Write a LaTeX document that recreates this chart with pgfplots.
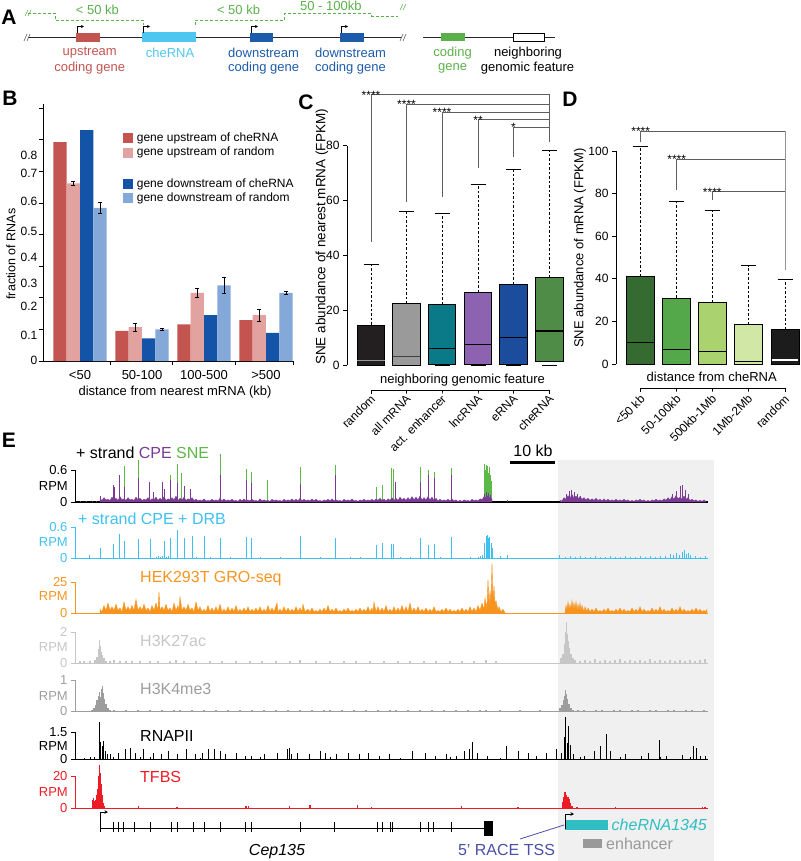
\documentclass[border=0pt]{standalone}
\usepackage{pgfplots}
\pgfplotsset{compat=1.18}
\usetikzlibrary{arrows.meta}
\usepackage{fontspec}
\setmainfont{Liberation Sans}
\newcommand\fs[1]{\fontsize{#1}{#1}\selectfont}

\definecolor{ured}{HTML}{C4544F}
\definecolor{upink}{HTML}{E2A3A0}
\definecolor{dblue}{HTML}{1454A8}
\definecolor{dlblue}{HTML}{84A8D8}
\definecolor{achecyan}{HTML}{4DC7EF}
\definecolor{ablue}{HTML}{1D5BAB}
\definecolor{agreen}{HTML}{5BB04C}
\definecolor{cRand}{HTML}{231F20}
\definecolor{cAll}{HTML}{9A9A9A}
\definecolor{cEnh}{HTML}{0B7A88}
\definecolor{cLnc}{HTML}{8D62B0}
\definecolor{cERNA}{HTML}{1B4D9C}
\definecolor{cChe}{HTML}{4F8C47}
\definecolor{dA}{HTML}{356B30}
\definecolor{dB}{HTML}{55A84A}
\definecolor{dC}{HTML}{AAD36F}
\definecolor{dD}{HTML}{D0E7A6}
\definecolor{dE}{HTML}{1C1C1C}
\definecolor{cpe}{HTML}{7A3A96}
\definecolor{sne}{HTML}{5CB847}
\definecolor{drb}{HTML}{3EC1F0}
\definecolor{gro}{HTML}{F7941E}
\definecolor{hac}{HTML}{C6C6C6}
\definecolor{hme}{HTML}{9D9D9D}
\definecolor{tfbs}{HTML}{ED1C24}
\definecolor{bggray}{HTML}{F0F0F0}
\definecolor{gcyan}{HTML}{2EBEC4}
\definecolor{racebl}{HTML}{4A50A6}
\definecolor{brk}{HTML}{5E5E5E}
\definecolor{enh}{HTML}{999999}

\pgfplotsset{
  trk/.style={anchor=south west, scale only axis, width=633pt, xmin=75, xmax=708, ymin=0,
    axis x line=bottom, axis y line=left, xtick=\empty, tick align=outside, major tick length=4pt,
    clip=false, axis line style={-, line width=0.8pt, draw=#1}, tick style={draw=#1, line width=0.8pt},
    yticklabel style={font=\fs{13}, text=#1}, /pgf/number format/assume math mode=true},
  wsk/.style={black, line width=0.9pt, dash pattern=on 2.5pt off 2pt},
  cap/.style={black, line width=0.9pt},
  bx/.style={fill=#1, draw=black, line width=0.8pt},
}

\begin{document}
\begin{tikzpicture}[lab/.style={inner sep=0pt}]
\path[use as bounding box] (0pt,0pt) rectangle (800pt,-861pt);
\fill[bggray] (558pt,-460pt) rectangle (714pt,-861pt);

% ---------------- Panel A ----------------
\node[lab, font=\fs{21}\bfseries] at (9pt,-17.5pt) {A};
\draw[line width=0.9pt, black!85] (28pt,-37.5pt) -- (402pt,-37.5pt);
\draw[line width=0.6pt, black!60] (24pt,-41pt) -- (27pt,-34pt) (27pt,-41pt) -- (30pt,-34pt);
\draw[line width=0.6pt, black!60] (400pt,-41pt) -- (403pt,-34pt) (403pt,-41pt) -- (406pt,-34pt);
\fill[ured] (76pt,-33.3pt) rectangle (99.5pt,-41.7pt);
\fill[achecyan] (142pt,-32.3pt) rectangle (196pt,-42.3pt);
\fill[ablue] (250pt,-33.3pt) rectangle (273.3pt,-41.7pt);
\fill[ablue] (340pt,-33.3pt) rectangle (364pt,-41.7pt);
\foreach \xx in {77,143,251,341}{
  \draw[line width=0.8pt, -{Stealth[length=3pt,width=3pt]}] (\xx pt,-33pt) -- (\xx pt,-26.5pt) -- (\xx pt+7pt,-26.5pt);
}
\draw[agreen, line width=0.9pt, dash pattern=on 3pt off 2pt] (28pt,-13.3pt) -- (55.4pt,-13.3pt) -- (55.4pt,-20pt) -- (143.6pt,-20pt) -- (143.6pt,-25pt);
\draw[agreen, line width=0.9pt, dash pattern=on 3pt off 2pt] (195pt,-25pt) -- (195pt,-20pt) -- (284.6pt,-20pt) -- (284.6pt,-13.3pt) -- (371.8pt,-13.3pt) -- (371.8pt,-16pt) -- (398pt,-16pt);
\draw[agreen, line width=0.6pt] (25pt,-16pt) -- (28pt,-10pt) (28pt,-16pt) -- (31pt,-10pt);
\draw[agreen, line width=0.6pt] (400pt,-10pt) -- (403pt,-4pt) (403pt,-10pt) -- (406pt,-4pt);
\node[lab, font=\fs{13}, text=agreen] at (97.4pt,-10pt) {< 50 kb};
\node[lab, font=\fs{13}, text=agreen] at (238.5pt,-10pt) {< 50 kb};
\node[lab, font=\fs{13}, text=agreen] at (330.8pt,-5.5pt) {50 - 100kb};
\node[lab, font=\fs{13}, text=ured] at (89.7pt,-52.7pt) {upstream};
\node[lab, font=\fs{13}, text=ured] at (89.7pt,-68.3pt) {coding gene};
\node[lab, font=\fs{13}, text=achecyan] at (170pt,-52.7pt) {cheRNA};
\node[lab, font=\fs{13}, text=ablue] at (263.6pt,-52.7pt) {downstream};
\node[lab, font=\fs{13}, text=ablue] at (263.6pt,-68.3pt) {coding gene};
\node[lab, font=\fs{13}, text=ablue] at (350.5pt,-52.7pt) {downstream};
\node[lab, font=\fs{13}, text=ablue] at (350.5pt,-68.3pt) {coding gene};
\draw[line width=0.9pt, black!85] (423pt,-37.3pt) -- (555pt,-37.3pt);
\fill[agreen] (441pt,-33pt) rectangle (464.5pt,-41.5pt);
\filldraw[fill=white, draw=black, line width=0.8pt] (513pt,-33.5pt) rectangle (544pt,-41.5pt);
\node[lab, font=\fs{13}, text=agreen] at (452.6pt,-52.7pt) {coding};
\node[lab, font=\fs{13}, text=agreen] at (452.6pt,-68.3pt) {gene};
\node[lab, font=\fs{13}] at (528pt,-52.7pt) {neighboring};
\node[lab, font=\fs{13}] at (527.6pt,-68.3pt) {genomic feature};

% ---------------- Panel B ----------------
\node[lab, font=\fs{21}\bfseries] at (10pt,-98pt) {B};
\begin{axis}[at={(43pt,-361pt)}, anchor=south west, scale only axis,
  width=250pt, height=257.5pt, xmin=43, xmax=293, ymin=0, ymax=0.815,
  axis x line=bottom, axis y line=left, axis line style={-, line width=0.9pt},
  xtick={110,172,235,293}, xticklabels={}, ytick={0,0.1,0.2,0.3,0.4,0.5,0.6,0.7,0.8}, yticklabels={},
  tick align=outside, major tick length=4pt, tick style={black, line width=0.9pt}, clip=false]
\addplot[ybar, bar width=13.33, bar shift=0pt, fill=ured, draw=none]
  coordinates {(60,0.693) (122,0.095) (184,0.116) (246,0.129)};
\addplot[ybar, bar width=13.33, bar shift=0pt, fill=upink, draw=none,
  error bars/.cd, y dir=both, y explicit, error bar style={black, line width=0.8pt},
  error mark options={rotate=90, black, mark size=2pt, line width=0.8pt}]
  coordinates {(73.3,0.562) +- (0,0.005) (135.3,0.107) +- (0,0.012) (197.3,0.216) +- (0,0.015) (259.3,0.145) +- (0,0.019)};
\addplot[ybar, bar width=13.33, bar shift=0pt, fill=dblue, draw=none]
  coordinates {(86.7,0.731) (148.7,0.072) (210.7,0.145) (272.7,0.089)};
\addplot[ybar, bar width=13.33, bar shift=0pt, fill=dlblue, draw=none,
  error bars/.cd, y dir=both, y explicit, error bar style={black, line width=0.8pt},
  error mark options={rotate=90, black, mark size=2pt, line width=0.8pt}]
  coordinates {(100,0.485) +- (0,0.017) (162,0.100) +- (0,0.002) (224,0.239) +- (0,0.026) (286,0.216) +- (0,0.004)};
\end{axis}
\foreach \yy/\tt in {155.8/0.8, 173.8/0.7, 201/0.6, 231.7/0.5, 257.5/0.4, 283.3/0.3, 306.3/0.2, 335/0.1, 360.4/0}{
  \node[lab, anchor=east, font=\fs{12}] at (37.5pt,-\yy pt) {\tt};
}
\foreach \xx/\tt in {80/<50, 142/50-100, 204/100-500, 266/>500}{
  \node[lab, font=\fs{13}] at (\xx pt,-375pt) {\tt};
}
\node[lab, font=\fs{13}] at (175pt,-392pt) {distance from nearest mRNA (kb)};
\node[lab, font=\fs{12.5}, rotate=90] at (11pt,-254pt) {fraction of RNAs};
\fill[ured] (123.3pt,-133.3pt) rectangle (133.3pt,-143.3pt);
\fill[upink] (123.3pt,-147.7pt) rectangle (133.3pt,-157.7pt);
\fill[dblue] (123.3pt,-179.3pt) rectangle (133.3pt,-189.3pt);
\fill[dlblue] (123.3pt,-193.3pt) rectangle (133.3pt,-203.3pt);
\node[lab, anchor=west, font=\fs{12}] at (136.7pt,-138.3pt) {gene upstream of cheRNA};
\node[lab, anchor=west, font=\fs{12}] at (136.7pt,-152.7pt) {gene upstream of random};
\node[lab, anchor=west, font=\fs{12}] at (136.7pt,-184.3pt) {gene downstream of cheRNA};
\node[lab, anchor=west, font=\fs{12}] at (136.7pt,-198.3pt) {gene downstream of random};

% ---------------- Panel C ----------------
\node[lab, font=\fs{21}\bfseries] at (306pt,-102.5pt) {C};
\begin{axis}[at={(347pt,-365.3pt)}, anchor=south west, scale only axis,
  width=218pt, height=219.6pt, xmin=347, xmax=565, ymin=0, ymax=80,
  axis y line=left, axis x line=none, axis line style={-, line width=0.9pt},
  ytick={0,20,40,60,80}, tick align=outside, major tick length=4pt,
  tick style={black, line width=0.9pt}, yticklabel style={font=\fs{12}},
  /pgf/number format/assume math mode=true, clip=false]
% random
\addplot[wsk] coordinates {(371,14.7) (371,36.8)};
\addplot[cap] coordinates {(363.5,36.8) (378.5,36.8)};
\addplot[bx=cRand] coordinates {(357.35,0) (384.65,0) (384.65,14.7) (357.35,14.7)} -- cycle;
\addplot[gray!80, line width=1.1pt] coordinates {(357.35,1.7) (384.65,1.7)};
% all mRNA
\addplot[wsk] coordinates {(406.5,22.5) (406.5,56.0)};
\addplot[cap] coordinates {(399,56.0) (414,56.0)};
\addplot[bx=cAll] coordinates {(392.85,0) (420.15,0) (420.15,22.5) (392.85,22.5)} -- cycle;
\addplot[black!75, line width=1.1pt] coordinates {(392.85,3.3) (420.15,3.3)};
% act. enhancer
\addplot[wsk] coordinates {(442,22.2) (442,55.4)};
\addplot[cap] coordinates {(434.5,55.4) (449.5,55.4)};
\addplot[cap] coordinates {(434.5,0) (449.5,0)};
\addplot[bx=cEnh] coordinates {(428.35,0.2) (455.65,0.2) (455.65,22.2) (428.35,22.2)} -- cycle;
\addplot[black, line width=1.1pt] coordinates {(428.35,6.2) (455.65,6.2)};
% lncRNA
\addplot[wsk] coordinates {(478,26.6) (478,66.0)};
\addplot[cap] coordinates {(470.5,66.0) (485.5,66.0)};
\addplot[cap] coordinates {(470.5,0) (485.5,0)};
\addplot[bx=cLnc] coordinates {(464.35,0.4) (491.65,0.4) (491.65,26.6) (464.35,26.6)} -- cycle;
\addplot[black, line width=1.1pt] coordinates {(464.35,7.6) (491.65,7.6)};
% eRNA
\addplot[wsk] coordinates {(513.5,29.6) (513.5,71.3)};
\addplot[cap] coordinates {(506,71.3) (521,71.3)};
\addplot[cap] coordinates {(506,0) (521,0)};
\addplot[bx=cERNA] coordinates {(499.85,0.4) (527.15,0.4) (527.15,29.6) (499.85,29.6)} -- cycle;
\addplot[black, line width=1.1pt] coordinates {(499.85,10.2) (527.15,10.2)};
% cheRNA
\addplot[wsk] coordinates {(549.5,31.9) (549.5,78.2)};
\addplot[cap] coordinates {(542,78.2) (557,78.2)};
\addplot[cap] coordinates {(542,0) (557,0)};
\addplot[bx=cChe] coordinates {(535.85,1.3) (563.15,1.3) (563.15,31.9) (535.85,31.9)} -- cycle;
\addplot[black, line width=1.1pt] coordinates {(535.85,12.5) (563.15,12.5)};
% significance brackets
\addplot[brk, line width=0.9pt] coordinates {(371,45) (371,98.5) (549.5,98.5)};
\addplot[brk, line width=0.9pt] coordinates {(406.5,59.6) (406.5,95.1) (549.5,95.1)};
\addplot[brk, line width=0.9pt] coordinates {(442,61.4) (442,92.2) (549.5,92.2)};
\addplot[brk, line width=0.9pt] coordinates {(478,71.8) (478,89.4) (549.5,89.4)};
\addplot[brk, line width=0.9pt] coordinates {(513.5,76.0) (513.5,86.7) (549.5,86.7)};
\addplot[brk, line width=0.9pt] coordinates {(549.5,81.5) (549.5,98.5)};
\addplot[black, line width=0.9pt] coordinates {(371,-10.3) (371,-9) (406.5,-9) (406.5,-10.3) (406.5,-9) (442,-9) (442,-10.3) (442,-9) (478,-9) (478,-10.3) (478,-9) (513.5,-9) (513.5,-10.3) (513.5,-9) (549.5,-9) (549.5,-10.3)};
\node[lab, anchor=base, font=\fs{12}, yshift=-4.5pt] at (axis cs:371,98.5) {****};
\node[lab, anchor=base, font=\fs{12}, yshift=-4.5pt] at (axis cs:406.5,95.1) {****};
\node[lab, anchor=base, font=\fs{12}, yshift=-4.5pt] at (axis cs:442,92.2) {****};
\node[lab, anchor=base, font=\fs{12}, yshift=-4.5pt] at (axis cs:478,89.4) {**};
\node[lab, anchor=base, font=\fs{12}, yshift=-4.5pt] at (axis cs:513.5,86.7) {*};
\end{axis}
\node[lab, font=\fs{13.5}, rotate=90] at (322pt,-237pt) {SNE abundance of nearest mRNA (FPKM)};
\node[lab, font=\fs{13}] at (462.5pt,-380pt) {neighboring genomic feature};
\foreach \xx/\tt in {371/random, 406.5/all mRNA, 442/act. enhancer, 478/lncRNA, 513.5/eRNA, 549.5/cheRNA}{
  \node[lab, rotate=45, anchor=east, font=\fs{12}] at (\xx pt+2pt,-397pt) {\tt};
}

% ---------------- Panel D ----------------
\node[lab, font=\fs{21}\bfseries] at (570pt,-99pt) {D};
\begin{axis}[at={(616pt,-364pt)}, anchor=south west, scale only axis,
  width=184pt, height=213pt, xmin=616, xmax=800, ymin=0, ymax=100,
  axis y line=left, axis x line=none, axis line style={-, line width=0.9pt},
  ytick={0,20,40,60,80,100}, tick align=outside, major tick length=4pt,
  tick style={black, line width=0.9pt}, yticklabel style={font=\fs{12}},
  /pgf/number format/assume math mode=true, clip=false]
% <50 kb
\addplot[wsk] coordinates {(640.7,41.0) (640.7,102.0)};
\addplot[cap] coordinates {(633.2,102.0) (648.2,102.0)};
\addplot[bx=dA] coordinates {(626.7,0) (654.7,0) (654.7,41.0) (626.7,41.0)} -- cycle;
\addplot[black, line width=1.1pt] coordinates {(626.7,10.2) (654.7,10.2)};
% 50-100kb
\addplot[wsk] coordinates {(676.7,31.0) (676.7,76.2)};
\addplot[cap] coordinates {(669.2,76.2) (684.2,76.2)};
\addplot[bx=dB] coordinates {(662.7,0) (690.7,0) (690.7,31.0) (662.7,31.0)} -- cycle;
\addplot[black, line width=1.1pt] coordinates {(662.7,6.9) (690.7,6.9)};
% 500kb-1Mb
\addplot[wsk] coordinates {(712.3,29.1) (712.3,72.3)};
\addplot[cap] coordinates {(704.8,72.3) (719.8,72.3)};
\addplot[bx=dC] coordinates {(698.3,0) (726.3,0) (726.3,29.1) (698.3,29.1)} -- cycle;
\addplot[black, line width=1.1pt] coordinates {(698.3,5.9) (726.3,5.9)};
% 1Mb-2Mb
\addplot[wsk] coordinates {(748.3,18.5) (748.3,46.2)};
\addplot[cap] coordinates {(740.8,46.2) (755.8,46.2)};
\addplot[bx=dD] coordinates {(734.3,0) (762.3,0) (762.3,18.5) (734.3,18.5)} -- cycle;
\addplot[black, line width=1.1pt] coordinates {(734.3,1.1) (762.3,1.1)};
% random
\addplot[wsk] coordinates {(785,16.1) (785,39.7)};
\addplot[cap] coordinates {(777.5,39.7) (792.5,39.7)};
\addplot[bx=dE] coordinates {(771,0) (799,0) (799,16.1) (771,16.1)} -- cycle;
\addplot[white, line width=1.1pt] coordinates {(771.6,1.9) (798.4,1.9)};
% significance brackets
\addplot[brk, line width=0.9pt] coordinates {(640.7,104) (640.7,109.4) (785,109.4)};
\addplot[brk, line width=0.9pt] coordinates {(676.7,81.7) (676.7,96.1) (785,96.1)};
\addplot[brk, line width=0.9pt] coordinates {(712.3,77) (712.3,80.9) (785,80.9)};
\addplot[gray!85, line width=0.9pt] coordinates {(785,44.1) (785,109.4)};
\addplot[black, line width=0.9pt] coordinates {(640.7,-13) (640.7,-11.4) (676.7,-11.4) (676.7,-13) (676.7,-11.4) (712.3,-11.4) (712.3,-13) (712.3,-11.4) (748.3,-11.4) (748.3,-13) (748.3,-11.4) (785,-11.4) (785,-13)};
\node[lab, anchor=base, font=\fs{12}, yshift=-4.5pt] at (axis cs:640.7,109.4) {****};
\node[lab, anchor=base, font=\fs{12}, yshift=-4.5pt] at (axis cs:676.7,96.1) {****};
\node[lab, anchor=base, font=\fs{12}, yshift=-4.5pt] at (axis cs:712.3,80.9) {****};
\end{axis}
\node[lab, font=\fs{13}, rotate=90] at (580pt,-248pt) {SNE abundance of mRNA (FPKM)};
\node[lab, font=\fs{13}] at (711.7pt,-377pt) {distance from cheRNA};
\foreach \xx/\tt in {640.7/<50 kb, 676.7/50-100kb, 712.3/500kb-1Mb, 748.3/1Mb-2Mb, 785/random}{
  \node[lab, rotate=45, anchor=east, font=\fs{12}] at (\xx pt+2pt,-397pt) {\tt};
}

% ---------------- Panel E ----------------
\node[lab, font=\fs{21}\bfseries] at (9pt,-440pt) {E};
\draw[line width=3pt] (510pt,-462pt) -- (555pt,-462pt);
\node[lab, font=\fs{16}] at (533pt,-451pt) {10 kb};

% Track 1: CPE / SNE
\begin{axis}[trk=black, at={(75pt,-502pt)}, height=32pt, ymax=0.6, ytick={0,0.6}, x axis line style={line width=1.6pt}]
\addplot[ycomb, sne, line width=1pt] coordinates {(124.6,.68)(138.5,.78)(170.7,.5)(177.9,.72)(181.7,.55)(220.5,.9)(246.2,.62)(251.3,.57)(267.7,.42)(300,.66)(335.9,.7)(376.9,.28)(382,.32)(391.3,.64)(393.8,.62)(420.5,.66)(428.2,.6)(434.4,.56)(451.3,.63)(484.5,.72)(485.5,.6)(486.5,.7)(487.5,.68)(488.5,.55)(489.5,.65)(490.5,.5)(491.5,.4)};
\addplot[ycomb, cpe, line width=1pt] coordinates {(80,.01)(86,.02)(92,.01)(96,.02)(507,.03)};
\addplot[fill=cpe, draw=cpe, line width=0.4pt] coordinates {(100,.06)(102,.03)(104,.08)(106,.04)(108,.05)(110,.03)(112,.09)(114,.04)(116,.07)(118,.03)(120,.10)(122,.04)(124,.06)(126,.03)(128,.08)(130,.04)(132,.05)(134,.03)(136,.09)(138,.04)(140,.07)(142,.03)(144,.05)(146,.04)(148,.08)(150,.03)(152,.06)(154,.04)(156,.09)(158,.03)(160,.07)(162,.04)(164,.10)(166,.03)(168,.06)(170,.04)(172,.08)(174,.04)(176,.11)(178,.03)(180,.07)(182,.04)(184,.09)(186,.03)(188,.06)(190,.04)(192,.08)(194,.03)(196,.05)(198,.02)(200,.04)(202,.02)(204,.06)(206,.02)(208,.03)(210,.02)(212,.05)(214,.02)(216,.04)(218,.02)(220,.07)(222,.02)(224,.06)(226,.02)(228,.04)(230,.02)(232,.05)(234,.02)(236,.03)(238,.01)(240,.05)(242,.02)(244,.06)(246,.02)(248,.04)(250,.02)(252,.05)(254,.02)(256,.03)(258,.01)(260,.06)(262,.02)(264,.04)(266,.02)(268,.03)(270,.01)(272,.05)(274,.02)(276,.04)(278,.02)(280,.03)(282,.01)(284,.05)(286,.02)(288,.04)(290,.02)(292,.06)(294,.02)(296,.05)(298,.02)(300,.07)(302,.02)(304,.05)(306,.02)(308,.04)(310,.02)(312,.06)(314,.02)(316,.05)(318,.02)(320,.03)(322,.01)(324,.04)(326,.02)(328,.05)(330,.02)(332,.06)(334,.02)(336,.04)(338,.02)(340,.03)(342,.01)(344,.05)(346,.02)(348,.04)(350,.02)(352,.06)(354,.02)(356,.03)(358,.01)(360,.04)(362,.02)(364,.05)(366,.02)(368,.04)(370,.02)(372,.05)(374,.02)(376,.06)(378,.03)(380,.07)(382,.03)(384,.05)(386,.02)(388,.06)(390,.03)(392,.08)(394,.03)(396,.07)(398,.03)(400,.09)(402,.04)(404,.07)(406,.03)(408,.08)(410,.04)(412,.10)(414,.04)(416,.09)(418,.04)(420,.11)(422,.04)(424,.08)(426,.04)(428,.10)(430,.04)(432,.09)(434,.03)(436,.07)(438,.02)(440,.05)(442,.02)(444,.04)(446,.02)(448,.05)(450,.02)(452,.06)(454,.02)(456,.04)(458,.01)(460,.03)(462,.01)(464,.04)(466,.02)(468,.03)(470,.01)(472,.05)(474,.02)(476,.04)(478,.02)(480,.06)(482,.04)(484,.10)(486,.08)(488,.12)(490,.07)(492,.06)} \closedcycle;
\addplot[fill=cpe, draw=cpe, line width=0.4pt] coordinates {(560,.03)(562,.02)(564,.08)(566,.05)(568,.12)(570,.07)(572,.14)(574,.07)(576,.11)(578,.06)(580,.10)(582,.05)(584,.08)(586,.04)(588,.07)(590,.03)(592,.06)(594,.03)(596,.07)(598,.03)(600,.05)(602,.02)(604,.06)(606,.02)(608,.05)(610,.02)(612,.04)(614,.02)(616,.05)(618,.02)(620,.04)(622,.02)(624,.05)(626,.02)(628,.04)(630,.01)(632,.03)(634,.01)(636,.04)(638,.02)(640,.05)(642,.02)(644,.04)(646,.01)(648,.03)(650,.01)(652,.04)(654,.02)(656,.05)(658,.02)(660,.04)(662,.02)(664,.06)(666,.03)(668,.08)(670,.04)(672,.10)(674,.05)(676,.12)(678,.06)(680,.09)(682,.05)(684,.11)(686,.05)(688,.08)(690,.03)(692,.05)(694,.02)(696,.04)(698,.01)(700,.03)(702,.01)(704,.04)(706,.01)} \closedcycle;
\addplot[ycomb, cpe, line width=1pt] coordinates {(100,.12)(113.8,.32)(114.5,.28)(119,.5)(124.6,.28)(138.5,.45)(149,.38)(153.8,.18)(162.7,.38)(164.1,.25)(170.8,.42)(177.9,.35)(184.6,.3)(190.8,.25)(220.5,.5)(246.2,.42)(251.3,.35)(300,.33)(335.9,.5)(395.9,.38)(420.5,.38)(428.2,.5)(434.4,.45)(451.3,.5)(484.5,.15)(486,.18)(488,.16)(490,.14)(566,.15)(569,.2)(571,.22)(574,.18)(577,.15)(580,.12)(672,.15)(676,.2)(680,.3)(682,.32)(685,.22)(688,.15)};
\end{axis}
\node[lab, anchor=east, font=\fs{13}] at (68pt,-486pt) {RPM};
\node[lab, anchor=west, font=\fs{16}] at (76pt,-452.5pt) {+ strand \textcolor{cpe}{CPE} \textcolor{sne}{SNE}};

% Track 2: CPE + DRB
\begin{axis}[trk=drb, at={(75pt,-558pt)}, height=31pt, ymax=0.6, ytick={0,0.6}]
\addplot[ycomb, drb, line width=1pt] coordinates {(89.7,.05)(100,.2)(113.8,.28)(119,.46)(124.6,.33)(138.5,.36)(150.3,.36)(164.1,.32)(170.8,.38)(177.9,.55)(184.6,.38)(192.3,.42)(204.1,.43)(220.5,.38)(246.2,.4)(251.3,.38)(300,.43)(335.9,.38)(376.9,.26)(382.1,.3)(391.3,.28)(393.8,.28)(420.5,.38)(428.2,.26)(434.4,.28)(451.3,.4)(484.6,.3)(486,.42)(487.2,.45)(488.5,.38)(489.7,.4)(491,.3)(492.3,.2)(500,.04)(507.7,.05)(559,.05)(156,.02)(158,.03)(160,.02)(162,.03)(166,.02)(168,.03)(196,.01)(210,.01)(230,.02)(260,.01)(280,.01)(320,.01)(350,.01)(360,.01)(400,.02)(410,.02)(440,.01)(470,.01)(478,.02)(480,.03)(482,.05)(565,.02)(570,.03)(575,.02)(580,.03)(585,.02)(590,.02)(595,.03)(600,.02)(605,.02)(610,.03)(615,.02)(620,.02)(625,.03)(630,.02)(635,.02)(640,.03)(645,.02)(650,.03)(655,.02)(660,.03)(665,.04)(670,.08)(673,.05)(676,.1)(679,.06)(682,.12)(684,.15)(686,.08)(688,.1)(690,.05)(695,.03)(700,.02)(705,.03)};
\end{axis}
\node[lab, anchor=east, font=\fs{13}, text=drb] at (68pt,-542pt) {RPM};
\node[lab, anchor=west, font=\fs{16}, text=drb] at (78pt,-519pt) {+ strand CPE + DRB};

% Track 3: GRO-seq
\begin{axis}[trk=gro, at={(75pt,-613pt)}, height=31pt, ymax=25, ytick={0,25}]
\addplot[fill=gro, draw=gro, line width=0.4pt] coordinates {(100,3)(102,1)(104,6)(106,2)(108,8)(110,2)(112,5)(114,2)(116,7)(118,2)(120,4)(122,1)(124,9)(126,2)(128,5)(130,2)(132,6)(134,2)(136,11)(138,2)(140,5)(142,2)(144,7)(146,2)(148,4)(150,1)(152,6)(154,2)(156,8)(158,2)(159,17)(160,2)(162,5)(164,2)(166,7)(168,2)(170,4)(172,1)(174,8)(176,2)(178,6)(179,2)(180,13)(182,2)(184,5)(186,2)(188,7)(190,2)(192,4)(194,1)(196,9)(198,2)(200,5)(202,1)(204,3)(206,1)(208,6)(210,1)(212,4)(214,1)(216,5)(218,1)(220,7)(222,1)(224,3)(226,1)(228,5)(230,1)(232,4)(234,1)(236,6)(238,1)(240,3)(242,1)(244,4)(246,1)(248,5)(250,1)(252,3)(254,1)(256,4)(258,1)(260,5)(262,1)(264,3)(266,1)(268,6)(270,1)(272,4)(274,1)(277,8)(278,1)(280,3)(282,1)(284,5)(286,1)(288,4)(290,1)(292,3)(294,1)(296,5)(298,1)(300,4)(302,1)(303,7)(305,1)(308,3)(310,1)(312,4)(314,1)(316,2)(318,1)(320,3)(322,1)(324,4)(326,1)(328,6)(330,1)(332,3)(334,1)(336,4)(338,1)(340,2)(342,1)(344,3)(346,1)(348,4)(350,1)(352,2)(354,1)(356,3)(358,1)(360,4)(362,1)(364,3)(366,1)(368,5)(370,1)(372,4)(373,1)(374,9)(376,1)(378,5)(380,1)(382,4)(384,1)(386,6)(388,1)(390,3)(392,1)(394,5)(396,1)(398,4)(400,1)(402,6)(404,1)(406,5)(408,1)(410,8)(412,1)(414,4)(416,1)(418,5)(420,1)(422,3)(424,1)(426,4)(428,1)(430,3)(432,1)(434,5)(436,1)(438,2)(440,1)(442,3)(444,1)(446,4)(448,1)(450,3)(452,1)(454,2)(456,1)(458,3)(460,1)(462,4)(464,1)(466,3)(468,1)(470,5)(472,1)(474,4)(476,1)(478,6)(480,2)(482,8)(484,3)(485,12)(487,4)(488,27)(489,6)(490,18)(491,8)(492,40)(493,10)(494,22)(495,6)(496,10)(498,2)(499,5)(501,1)(503,3)(505,0)} \closedcycle;
\addplot[fill=gro, draw=gro, line width=0.4pt] coordinates {(565,1)(566,6)(567,2)(568,9)(569,3)(570,7)(571,3)(572,10)(573,3)(574,8)(575,3)(576,9)(577,2)(578,7)(579,2)(580,8)(581,2)(582,6)(584,1)(585,5)(587,1)(588,4)(590,1)(592,3)(594,1)(596,4)(598,1)(600,2)(602,1)(604,3)(606,1)(608,4)(610,1)(612,2)(614,1)(616,3)(618,1)(620,4)(622,1)(624,3)(626,1)(628,2)(630,1)(632,4)(634,1)(636,3)(638,1)(640,5)(642,1)(644,3)(646,1)(648,2)(650,1)(652,4)(654,1)(656,3)(658,1)(660,5)(662,1)(664,3)(666,1)(668,2)(670,1)(672,4)(674,1)(676,3)(678,1)(680,5)(682,1)(684,3)(686,1)(688,2)(690,1)(692,3)(694,1)(696,4)(698,1)(700,3)(702,1)(704,2)(706,1)(707,3)} \closedcycle;
\end{axis}
\node[lab, anchor=east, font=\fs{13}, text=gro] at (68pt,-596pt) {RPM};
\node[lab, anchor=west, font=\fs{16}, text=gro] at (140pt,-579pt) {HEK293T GRO-seq};

% Track 4: H3K27ac
\begin{axis}[trk=hac, at={(75pt,-663pt)}, height=31pt, ymax=2, ytick={0,2}]
\addplot[ycomb, hac, line width=1.1pt] coordinates {(95,.2)(97,.4)(98.5,.9)(99.5,1.47)(100.5,1.1)(101.5,.7)(102.5,.5)(104,.3)(106,.15)(80,.1)(84,.15)(90,.1)(110,.1)(114,.2)(120,.12)(126,.1)(132,.15)(140,.1)(150,.12)(158,.1)(170,.15)(176,.2)(184,.1)(196,.12)(210,.1)(222,.15)(236,.1)(250,.12)(262,.1)(276,.15)(290,.1)(300,.2)(316,.1)(330,.12)(344,.1)(356,.15)(370,.1)(384,.12)(398,.1)(410,.15)(424,.1)(436,.12)(450,.1)(462,.15)(474,.1)(486,.2)(496,.1)(561,.3)(563,.6)(564.5,1.2)(565.5,2.0)(566.5,2.63)(567.5,1.9)(568.5,1.4)(569.5,1.0)(571,.6)(573,.3)(575,.2)(580,.15)(585,.2)(590,.12)(595,.25)(600,.15)(605,.2)(610,.12)(615,.18)(620,.25)(625,.15)(630,.2)(635,.12)(640,.2)(645,.15)(650,.25)(655,.12)(660,.2)(665,.15)(670,.18)(675,.12)(680,.2)(685,.15)(690,.22)(695,.12)(700,.2)(705,.25)};
\end{axis}
\node[lab, anchor=east, font=\fs{13}, text=hac] at (68pt,-647pt) {RPM};
\node[lab, anchor=west, font=\fs{16}, text=hac] at (140pt,-641pt) {H3K27ac};

% Track 5: H3K4me3
\begin{axis}[trk=hme, at={(75pt,-711.5pt)}, height=31.5pt, ymax=1, ytick={0,1}]
\addplot[ycomb, hme, line width=1.1pt] coordinates {(92,.05)(94,.1)(95.5,.2)(97,.35)(98.5,.5)(99.5,.62)(100.5,.45)(101.5,.7)(102.5,.82)(103.5,.6)(104.5,.4)(106,.25)(108,.1)(110,.05)(80,.02)(86,.03)(114,.04)(120,.03)(126,.05)(132,.03)(138,.04)(144,.03)(150,.05)(156,.03)(162,.04)(168,.03)(174,.05)(180,.04)(186,.03)(192,.04)(198,.03)(204,.05)(210,.03)(216,.04)(222,.03)(228,.05)(234,.03)(240,.04)(246,.03)(252,.05)(258,.03)(264,.04)(270,.03)(276,.05)(282,.03)(288,.04)(294,.03)(300,.05)(306,.03)(312,.04)(318,.03)(324,.05)(330,.04)(336,.03)(342,.05)(348,.03)(354,.04)(360,.03)(366,.05)(372,.03)(378,.04)(384,.03)(390,.05)(396,.04)(402,.03)(408,.05)(414,.03)(420,.04)(426,.03)(432,.05)(438,.03)(444,.04)(450,.03)(456,.05)(462,.03)(468,.04)(474,.03)(480,.05)(486,.04)(492,.03)(500,.04)(510,.03)(520,.04)(530,.03)(540,.04)(550,.03)(560,.1)(562,.2)(563.5,.35)(564.5,.5)(565.5,.67)(566.5,.55)(567.5,.4)(569,.25)(571,.12)(573,.06)(578,.04)(584,.05)(590,.03)(596,.04)(602,.05)(608,.03)(614,.04)(620,.05)(626,.03)(632,.04)(638,.05)(644,.03)(650,.04)(656,.05)(662,.03)(668,.04)(674,.05)(680,.03)(686,.04)(692,.05)(698,.03)(704,.04)};
\end{axis}
\node[lab, anchor=east, font=\fs{13}, text=hme] at (68pt,-696pt) {RPM};
\node[lab, anchor=west, font=\fs{16}, text=hme] at (140pt,-689pt) {H3K4me3};

% Track 6: RNAPII
\begin{axis}[trk=black, at={(75pt,-759pt)}, height=27pt, ymax=1.5, ytick={0,1.5}]
\addplot[ycomb, black, line width=0.9pt] coordinates {(99,2.03)(100.5,.97)(102,.71)(103.5,1.0)(105,.44)(107,.3)(110,.26)(118,.35)(125.6,.53)(130.8,.62)(135.9,.35)(143.6,.53)(153.8,.35)(161.5,.26)(168.2,.44)(177,.26)(186,.53)(195,.26)(202.6,.35)(208.7,.56)(214.4,.53)(220.5,.44)(225.6,.26)(236,.32)(245,.18)(251.3,.18)(264,.26)(277,.35)(287,.53)(289.7,.62)(291,.3)(297.4,.35)(309,.26)(320.5,.44)(325.6,.35)(336,.26)(348.7,.35)(359,.26)(368.2,.35)(379.5,.18)(389.7,.26)(412.8,.44)(425.6,.35)(435.9,.18)(446,.26)(456.4,.18)(464,.44)(469,.56)(472.8,.97)(477,.32)(487,.18)(506.7,.71)(518,.44)(528,.35)(536,.18)(546,.35)(556.4,.56)(561.5,.35)(564,1.24)(565.6,2.33)(567.2,.88)(568.2,1.85)(570.3,.79)(573.3,.26)(584.6,.18)(594.9,.44)(600,.71)(606.7,1.41)(610.3,.44)(625.6,.26)(641,.18)(648.7,.35)(659,1.06)(666.7,.18)(682,.21)(693.3,.71)(696.4,.62)(700,.18)(705,.18)(84,.08)(90,.1)(94,.12)(113,.1)(140,.12)(150,.1)(200,.08)(260,.1)(330,.1)(400,.08)(450,.1)(500,.08)(580,.1)(620,.1)(660,.1)(690,.12)};
\end{axis}
\node[lab, anchor=east, font=\fs{13}] at (68pt,-746pt) {RPM};
\node[lab, anchor=west, font=\fs{16}] at (140pt,-736pt) {RNAPII};

% Track 7: TFBS
\begin{axis}[trk=tfbs, at={(75pt,-808pt)}, height=32pt, ymax=20, ytick={0,20}]
\addplot[ycomb, tfbs, line width=1.1pt] coordinates {(92.3,5)(93.3,6)(94.3,4.5)(95.3,5)(96.3,8)(97.3,12)(98.3,20)(99.1,26.8)(100,22)(101,15)(102,8)(103,3)(104.5,1)(138.5,1.5)(177,.8)(246,1.2)(248.7,1.5)(289.7,1.2)(310,2)(357.4,2)(371.8,.8)(461.5,1.2)(518,.8)(563,4)(564,7)(565,9.8)(566,8)(567,6)(568,7)(569,5.5)(570,3)(572,1.5)(577,.8)(615.4,.5)(702.6,.8)(705,.8)};
\end{axis}
\node[lab, anchor=east, font=\fs{13}, text=tfbs] at (68pt,-792pt) {RPM};
\node[lab, anchor=west, font=\fs{16}, text=tfbs] at (140pt,-777pt) {TFBS};

% Gene model
\begin{axis}[at={(75pt,-840pt)}, anchor=south west, scale only axis, width=633pt, height=30pt,
  xmin=75, xmax=708, ymin=-840, ymax=-810, hide axis, clip=false]
\addplot[black, line width=0.8pt] coordinates {(100,-828.3) (490,-828.3)};
\addplot[black, only marks, mark=|, mark size=5pt, mark options={line width=0.8pt}] coordinates {(100,-827)(113.8,-827)(117.9,-827)(123.1,-827)(134.4,-827)(150.3,-827)(171.8,-827)(176.9,-827)(193.3,-827)(204.1,-827)(220.5,-827)(245.1,-827)(251.3,-827)(300,-827)(334.4,-827)(376.9,-827)(382.1,-827)(390.8,-827)(392.8,-827)(420.5,-827)(428.2,-827)(433.3,-827)(451.3,-827)};
\addplot[fill=black, draw=black] coordinates {(484.6,-821) (492.3,-821) (492.3,-835) (484.6,-835)} -- cycle;
\addplot[fill=gcyan, draw=none] coordinates {(565,-820) (608,-820) (608,-829.5) (565,-829.5)} -- cycle;
\addplot[fill=enh, draw=none] coordinates {(583,-839) (601.7,-839) (601.7,-848) (583,-848)} -- cycle;
\end{axis}
\draw[line width=0.8pt, -{Stealth[length=3.5pt,width=3.5pt]}] (100pt,-828pt) -- (100pt,-812pt) -- (108pt,-812pt);
\draw[line width=0.8pt, -{Stealth[length=3.5pt,width=3.5pt]}] (565pt,-829pt) -- (565pt,-814pt) -- (574pt,-814pt);
\draw[racebl, line width=0.8pt] (520pt,-839pt) -- (564pt,-825pt);
\node[lab, font=\fs{16}\itshape] at (277pt,-852pt) {Cep135};
\node[lab, font=\fs{16}, text=racebl] at (506.5pt,-850pt) {5’ RACE TSS};
\node[lab, anchor=west, font=\fs{16}\itshape, text=gcyan] at (611.5pt,-825pt) {cheRNA1345};
\node[lab, anchor=west, font=\fs{16}, text=enh] at (606pt,-843.5pt) {enhancer};
\end{tikzpicture}
\end{document}
